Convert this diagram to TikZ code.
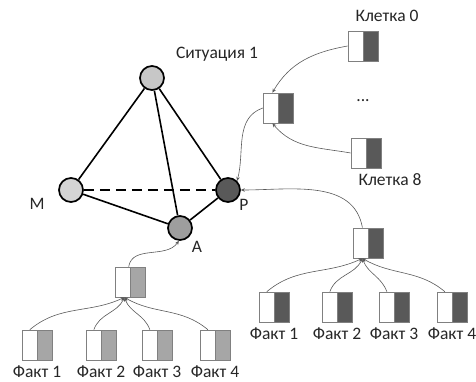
\documentclass[tikz,border=0pt]{standalone}
\usepackage{fontspec}
\setmainfont{Carlito}
\usepackage{xcolor}
\usepackage{tikz}
\usetikzlibrary{arrows.meta}

\definecolor{darkcell}{HTML}{595959}
\definecolor{lightcell}{HTML}{A6A6A6}

\begin{document}
\begin{tikzpicture}[
      x=1pt, y=1pt,
      vert/.style={circle, draw, line width=1.7pt, minimum size=24pt, inner sep=0pt},
      edge/.style={line width=1.6pt},
      cell/.style={draw=gray, line width=0.7pt, minimum width=30pt, minimum height=30pt, inner sep=0pt,
        path picture={\fill[#1] (path picture bounding box.north) rectangle (path picture bounding box.south east);
          \draw[gray, line width=0.7pt] (path picture bounding box.north) -- (path picture bounding box.south);}},
      lbl/.style={font=\fontsize{17.5}{19}\selectfont, text=black!85, inner sep=0pt},
      link/.style={draw=gray!70!black, line width=0.6pt, -{Stealth[length=4pt, width=3.5pt]}}
    ]
      \useasboundingbox (0,0) rectangle (476,381);

      % situation
      \node[vert, fill=black!22] (top) at (152,303) {};
      \node[vert, fill=black!17] (M) at (71,191) {};
      \node[vert, fill=black!38] (A) at (180,153) {};
      \node[vert, fill=darkcell] (P) at (228,191) {};
      \draw[edge] (top) -- (M);
      \draw[edge] (top) -- (P);
      \draw[edge] (top) -- (A);
      \draw[edge] (M) -- (A);
      \draw[edge] (A) -- (P);
      \draw[edge, dash pattern=on 10pt off 6pt] (M) -- (P);
      \node[lbl] (sit) at (217,327) {Ситуация 1};
      \node[lbl] (lM) at (37,177) {M};
      \node[lbl] (lA) at (197,134) {A};
      \node[lbl] (lP) at (244,176) {P};

      % cells
      \node[cell=darkcell] (k0) at (363,335) {};
      \node[lbl] (lk0) at (387,365) {Клетка 0};
      \node[cell=darkcell] (mid) at (278,273) {};
      \node[lbl] (dots) at (363,280) {...};
      \node[cell=darkcell] (k8) at (366,228) {};
      \node[lbl] (lk8) at (390,201) {Клетка 8};
      \draw[link] (k0.west) to[out=190, in=60] (mid.110);
      \draw[link] (k8.west) to[out=170, in=-50] (mid.250);
      \draw[link] (mid.west) to[out=200, in=75] (P.45);

      % facts for P
      \node[cell=darkcell] (agR) at (368,138) {};
      \draw[link] (agR.110) to[out=100, in=0] (P.east);
      \foreach \x/\i/\o/\n in {274/1/40/205, 337/2/70/245, 394/3/110/290, 452/4/140/330} {
        \node[cell=darkcell] (fR\i) at (\x,74) {};
        \node[lbl] (lfR\i) at (\x,47) {Факт \i};
        \draw[link] (fR\i.115) to[out=\o, in=\n] (agR.250);
      }

      % facts for A
      \node[cell=lightcell] (agL) at (130,99) {};
      \draw[link] (agL.95) to[out=80, in=235] (A.265);
      \foreach \x/\i/\o/\n in {37/1/40/205, 101/2/70/245, 157/3/110/290, 215/4/140/330} {
        \node[cell=lightcell] (fL\i) at (\x,36) {};
        \node[lbl] (lfL\i) at (\x,9) {Факт \i};
        \draw[link] (fL\i.115) to[out=\o, in=\n] (agL.250);
      }
    \end{tikzpicture}
\end{document}
